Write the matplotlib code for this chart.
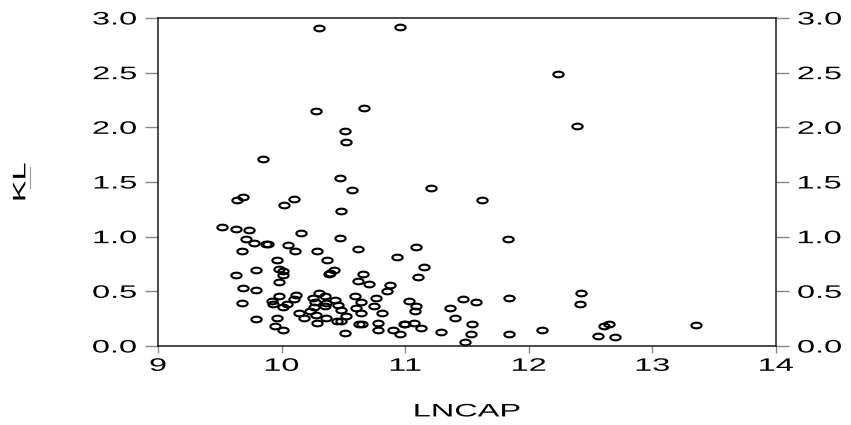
#!/usr/bin/env python3
"""Scatter of KL against LNCAP: open elliptical markers, ticks on both y sides."""
import matplotlib

matplotlib.use("Agg")
import matplotlib.pyplot as plt  # noqa: E402
from matplotlib.lines import Line2D  # noqa: E402
from matplotlib.path import Path  # noqa: E402
from matplotlib.patheffects import AbstractPathEffect  # noqa: E402
from matplotlib.transforms import Affine2D  # noqa: E402

# values
LNCAP = [
    10.30, 10.96, 12.24, 10.28, 10.67, 12.39, 10.51, 10.52, 9.85, 10.47,
    10.57, 11.21, 9.64, 9.69, 10.10, 10.02, 11.62, 10.48, 9.52, 9.63,
    9.74, 10.16, 10.47, 11.83, 9.71, 9.78, 9.87, 9.89, 10.05, 10.29,
    10.11, 9.68, 10.62, 11.09, 10.93, 9.96, 10.37, 11.15, 9.79, 9.98,
    10.01, 10.01, 9.63, 10.42, 10.39, 10.38, 10.66, 11.10, 9.98, 10.62,
    10.71, 10.88, 9.69, 9.79, 10.85, 12.42, 10.30, 10.12, 9.98, 10.35,
    10.59, 10.25, 10.76, 11.84, 11.47, 10.10, 10.43, 9.92, 11.03, 11.57,
    10.27, 10.64, 9.68, 10.36, 10.04, 9.93, 10.46, 12.41, 11.09, 10.75,
    10.01, 10.35, 10.26, 11.36, 10.60, 10.48, 11.08, 10.23, 10.14, 10.64,
    10.81, 10.52, 10.28, 10.18, 9.96, 10.36, 11.40, 9.79, 10.45, 10.48,
    10.78, 10.29, 10.63, 10.65, 10.99, 11.00, 11.07, 11.54, 13.35, 12.61,
    12.65, 9.95, 10.01, 10.78, 10.90, 11.13, 11.29, 12.11, 10.51, 10.96,
    11.53, 11.84, 12.56, 12.70, 11.48,
]
KL = [
    2.905, 2.918, 2.49, 2.145, 2.18, 2.01, 1.97, 1.867, 1.708, 1.54,
    1.427, 1.442, 1.335, 1.36, 1.341, 1.292, 1.335, 1.231, 1.088, 1.066,
    1.063, 1.033, 0.99, 0.981, 0.981, 0.938, 0.932, 0.932, 0.926, 0.868,
    0.865, 0.865, 0.889, 0.904, 0.816, 0.782, 0.788, 0.724, 0.697, 0.703,
    0.687, 0.648, 0.648, 0.697, 0.669, 0.663, 0.654, 0.632, 0.587, 0.596,
    0.571, 0.559, 0.526, 0.513, 0.507, 0.483, 0.489, 0.464, 0.461, 0.461,
    0.458, 0.443, 0.443, 0.44, 0.428, 0.434, 0.425, 0.412, 0.412, 0.403,
    0.403, 0.403, 0.394, 0.394, 0.388, 0.382, 0.373, 0.388, 0.364, 0.364,
    0.357, 0.364, 0.357, 0.345, 0.348, 0.327, 0.318, 0.324, 0.302, 0.302,
    0.302, 0.278, 0.281, 0.26, 0.26, 0.257, 0.254, 0.247, 0.226, 0.229,
    0.211, 0.208, 0.199, 0.199, 0.199, 0.199, 0.208, 0.199, 0.193, 0.18,
    0.199, 0.18, 0.15, 0.144, 0.144, 0.162, 0.125, 0.144, 0.116, 0.107,
    0.113, 0.107, 0.089, 0.082, 0.04,
]
X_TICKS = [9, 10, 11, 12, 13, 14]
Y_TICKS = [0.0, 0.5, 1.0, 1.5, 2.0, 2.5, 3.0]

FONT = "Liberation Sans"
STRETCH = 1.8          # the reference lettering is drawn wide


class Widen(AbstractPathEffect):
    """Stretch text glyphs along the reading direction about an anchor."""

    def __init__(self, sx, anchor=0.5):
        super().__init__()
        self.sx, self.anchor = sx, anchor

    def draw_path(self, renderer, gc, tpath, affine, rgbFace=None):
        ext = tpath.get_extents()
        x0 = ext.x0 + self.anchor * ext.width
        pre = Affine2D().translate(-x0, 0).scale(self.sx, 1).translate(x0, 0)
        renderer.draw_path(gc, tpath, pre + affine, rgbFace)


# flattened open circle, as in the reference
ellipse = Path(Affine2D().scale(1.0, 0.55).transform(Path.unit_circle().vertices),
               Path.unit_circle().codes)

fig = plt.figure(figsize=(8.51, 4.25), dpi=100, facecolor="white")
ax = fig.add_axes([0.1857, 0.1859, 0.7262, 0.7718])

ax.plot(LNCAP, KL, ls="none", marker=ellipse, ms=7.4, mfc="none",
        mec="black", mew=1.5)

ax.set_xlim(9, 14)
ax.set_ylim(0, 3)
ax.set_xticks(X_TICKS, [str(v) for v in X_TICKS])
ax.set_yticks(Y_TICKS, [f"{v:.1f}" for v in Y_TICKS])

for side in ax.spines.values():
    side.set_color("#1a1a1a")
    side.set_linewidth(1.1)

ax.tick_params(axis="y", which="both", left=True, right=True, labelright=True,
               direction="out", length=9.5, width=1.0, color="#888888",
               pad=6, labelsize=13)
ax.tick_params(axis="x", which="both", bottom=True, top=False,
               direction="out", length=5, width=1.0, color="#888888",
               pad=3.5, labelsize=13)

for lab in ax.get_xticklabels():
    lab.set_fontfamily(FONT)
    lab.set_path_effects([Widen(STRETCH, 0.5)])
for tick in ax.yaxis.get_major_ticks():
    tick.label1.set_fontfamily(FONT)
    tick.label1.set_path_effects([Widen(STRETCH, 1.0)])
    tick.label2.set_fontfamily(FONT)
    tick.label2.set_path_effects([Widen(STRETCH, 0.0)])

ax.set_xlabel("LNCAP", fontsize=13, fontfamily=FONT, va="center",
              path_effects=[Widen(STRETCH, 0.5)])
ax.xaxis.set_label_coords(0.5, -0.201)
ax.set_ylabel("KL", fontsize=13, fontfamily=FONT, va="center",
              path_effects=[Widen(STRETCH, 0.5)])
ax.yaxis.set_label_coords(-0.222, 0.5)

# the faint rule beside the axis title
fig.add_artist(Line2D([30 / 851, 30 / 851], [1 - 167 / 425, 1 - 188 / 425],
                      color="#999999", lw=0.8))

fig.savefig("out.png", dpi=100, facecolor="white")
plt.close(fig)
